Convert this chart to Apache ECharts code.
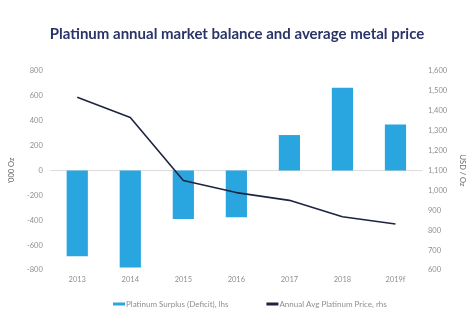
<!DOCTYPE html>
<html><head><meta charset="utf-8">
<script src="https://cdn.jsdelivr.net/npm/echarts@6/dist/echarts.min.js"></script>
<style>html,body{margin:0;padding:0;background:#fff}#c{width:474px;height:329px}</style>
</head><body><div id="c"></div>
<script>
const categories = ['2013','2014','2015','2016','2017','2018','2019f'];
const surplus = [-690, -780, -390, -375, 285, 665, 370];
const price = [1468, 1366, 1050, 989, 950, 868, 831];
const leftTicks = {min: -800, max: 800, interval: 200};
const rightTicks = {min: 600, max: 1600, interval: 100};

const chart = echarts.init(document.getElementById('c'));
const lab = {color: '#8f8f8f', fontSize: 7.5, fontFamily: 'Lato'};
chart.setOption({
  animation: false,
  textStyle: {fontFamily: 'Lato'},
  title: {text: 'Platinum annual market balance and average metal price', left: 'center', top: 22,
    textStyle: {color: '#2b3467', fontSize: 15, fontWeight: 'bold', fontFamily: 'Lato'}},
  legend: {bottom: 16, left: 108, itemGap: 38, itemWidth: 12, itemHeight: 3,
    textStyle: {color: '#8f8f8f', fontSize: 8, fontFamily: 'Lato', padding: [0,0,0,-4]},
    data: [{name: 'Platinum Surplus (Deficit), lhs', icon: 'rect'},
           {name: 'Annual Avg Platinum Price, rhs', icon: 'rect'}]},
  grid: {left: 49, right: 50, top: 71, bottom: 59},
  xAxis: {type: 'category', data: categories,
    axisLine: {onZero: true, lineStyle: {color: '#dcdcdc'}}, axisTick: {show: false},
    axisLabel: Object.assign({margin: 6}, lab)},
  yAxis: [
    {type: 'value', min: leftTicks.min, max: leftTicks.max, interval: leftTicks.interval,
     name: "'000 Oz", nameLocation: 'middle', nameGap: 22, nameRotate: 90,
     nameTextStyle: {color: '#666', fontSize: 7.5},
     splitLine: {show: false}, axisLine: {show: false}, axisTick: {show: false},
     axisLabel: Object.assign({margin: 8}, lab)},
    {type: 'value', min: rightTicks.min, max: rightTicks.max, interval: rightTicks.interval,
     name: 'USD / Oz', nameLocation: 'middle', nameGap: 29, nameRotate: -90,
     nameTextStyle: {color: '#666', fontSize: 7.5},
     splitLine: {show: false}, axisLine: {show: false}, axisTick: {show: false},
     axisLabel: Object.assign({margin: 6, formatter: v => v.toLocaleString('en-US')}, lab)}
  ],
  series: [
    {name: 'Platinum Surplus (Deficit), lhs', type: 'bar', data: surplus, barWidth: '40%',
     itemStyle: {color: '#29a6df'}, yAxisIndex: 0},
    {name: 'Annual Avg Platinum Price, rhs', type: 'line', data: price, yAxisIndex: 1,
     symbol: 'none', lineStyle: {color: '#1c2440', width: 1.6}, itemStyle: {color: '#1c2440'}}
  ]
});
</script></body></html>
